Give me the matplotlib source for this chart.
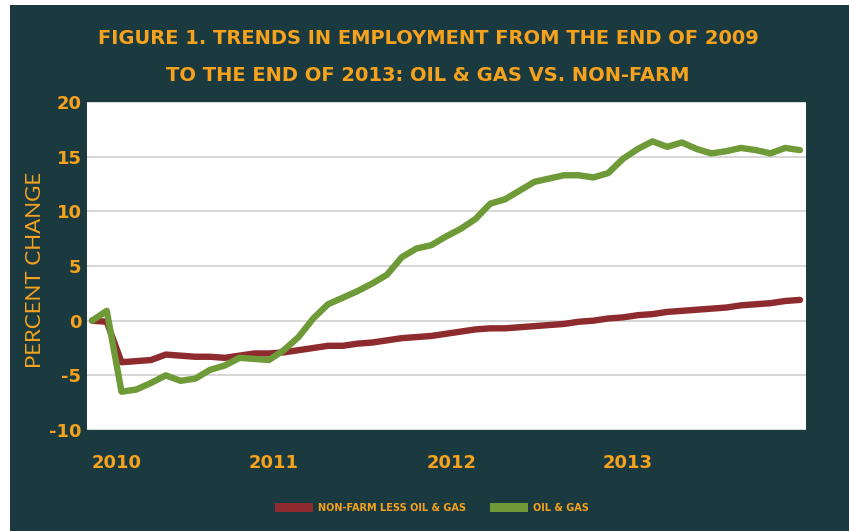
import matplotlib
matplotlib.use("Agg")
import matplotlib.pyplot as plt
from matplotlib.patches import Patch, Rectangle

# Monthly % change since Dec 2009 (index 0 = Dec 2009, 48 = Dec 2013)
oil_gas = [0.0, 0.9, -6.5, -6.3, -5.7, -5.0, -5.5, -5.3, -4.5, -4.1,
           -3.4, -3.5, -3.6, -2.7, -1.5, 0.2, 1.5, 2.1, 2.7, 3.4,
           4.2, 5.8, 6.6, 6.9, 7.7, 8.4, 9.3, 10.7, 11.1, 11.9,
           12.7, 13.0, 13.3, 13.3, 13.1, 13.5, 14.8, 15.7, 16.4, 15.9,
           16.3, 15.7, 15.3, 15.5, 15.8, 15.6, 15.3, 15.8, 15.6]
non_farm = [0.0, -0.1, -3.8, -3.7, -3.6, -3.1, -3.2, -3.3, -3.3, -3.4,
            -3.2, -3.0, -3.0, -2.9, -2.7, -2.5, -2.3, -2.3, -2.1, -2.0,
            -1.8, -1.6, -1.5, -1.4, -1.2, -1.0, -0.8, -0.7, -0.7, -0.6,
            -0.5, -0.4, -0.3, -0.1, 0.0, 0.2, 0.3, 0.5, 0.6, 0.8,
            0.9, 1.0, 1.1, 1.2, 1.4, 1.5, 1.6, 1.8, 1.9]
year_labels = ["2010", "2011", "2012", "2013"]
year_ticks = [1.7, 12.3, 24.4, 36.3]   # where the labels sit (month index)
y_ticks = [-10, -5, 0, 5, 10, 15, 20]

BG = "#1b3a40"
ORANGE = "#f6a21d"
RED = "#8e2b2e"
GREEN = "#6e9a38"

months = list(range(len(oil_gas)))

fig = plt.figure(figsize=(8.49, 5.31), dpi=100, facecolor="white")
# dark panel (small white margin on the left and top like the scan)
fig.patches.append(Rectangle((10 / 849, 0), 1, 1 - 5 / 531, transform=fig.transFigure,
                             facecolor=BG, edgecolor="none", zorder=-10))

ax = fig.add_axes([87 / 849, 1 - 430 / 531, 719 / 849, 328 / 531])
ax.set_facecolor("white")
ax.plot(months, non_farm, color=RED, lw=4.6, solid_capstyle="round", solid_joinstyle="round", zorder=3)
ax.plot(months, oil_gas, color=GREEN, lw=4.6, solid_capstyle="round", solid_joinstyle="round", zorder=4)

ax.set_xlim(-0.34, 48.41)
ax.set_ylim(-10, 20)
ax.set_yticks(y_ticks)
ax.set_yticklabels([str(v) for v in y_ticks])
ax.set_xticks(year_ticks)
ax.set_xticklabels(year_labels)
ax.grid(axis="y", color="#d6d6d6", lw=1.4)
ax.set_axisbelow(True)
for s in ax.spines.values():
    s.set_visible(False)
ax.tick_params(length=0, colors=ORANGE, labelsize=13)
ax.tick_params(axis="y", pad=4)
ax.tick_params(axis="x", pad=17)
for lab in ax.get_xticklabels() + ax.get_yticklabels():
    lab.set_fontweight("bold")

fig.text(35 / 849, 1 - 270 / 531, "PERCENT CHANGE", rotation=90, color=ORANGE,
         fontsize=16, fontweight="normal", family="Lato", ha="center", va="center")

fig.text(428 / 849, 1 - 39 / 531, "FIGURE 1. TRENDS IN EMPLOYMENT FROM THE END OF 2009",
         color=ORANGE, fontsize=14, fontweight="heavy", ha="center", va="center")
fig.text(428 / 849, 1 - 76 / 531, "TO THE END OF 2013: OIL & GAS VS. NON-FARM",
         color=ORANGE, fontsize=14, fontweight="heavy", ha="center", va="center")

handles = [Patch(facecolor=RED, label="NON-FARM LESS OIL & GAS"),
           Patch(facecolor=GREEN, label="OIL & GAS")]
leg = fig.legend(handles=handles, loc="center", bbox_to_anchor=(432 / 849, 1 - 508 / 531),
                 ncol=2, frameon=False, fontsize=7, handlelength=3.9, handleheight=1.0,
                 handletextpad=0.5, columnspacing=2.5)
for t in leg.get_texts():
    t.set_color(ORANGE)
    t.set_fontweight("bold")

fig.savefig("out.png", dpi=100, facecolor=fig.get_facecolor())
